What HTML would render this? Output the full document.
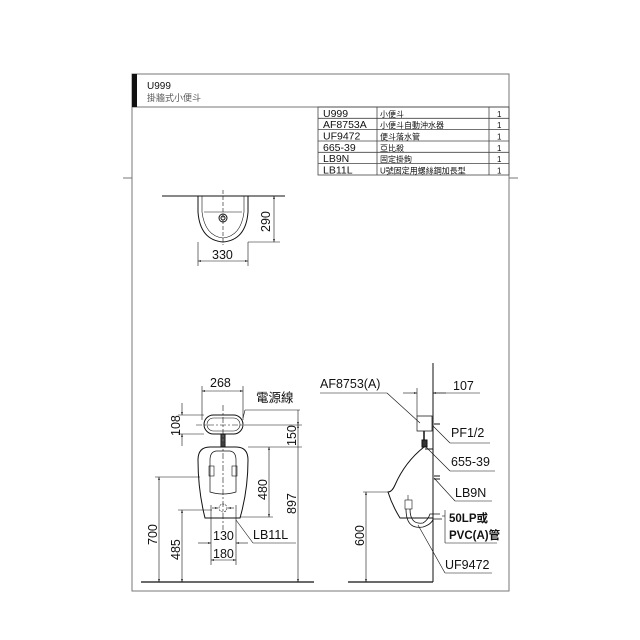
<!DOCTYPE html>
<html><head><meta charset="utf-8"><style>
html,body{margin:0;padding:0;background:#fff;}
svg{display:block;}
text{font-family:"Liberation Sans","Noto Sans CJK TC",sans-serif;fill:#111;}
.t{font-size:12.5px;}
.s{font-size:8px;fill:#555;}
</style></head><body>
<svg width="640" height="640" viewBox="0 0 640 640" xmlns="http://www.w3.org/2000/svg">
<defs>
<marker id="a" viewBox="0 0 10 10" refX="10" refY="5" markerWidth="5" markerHeight="5" orient="auto-start-reverse"><path d="M0,2 L10,5 L0,8 z" fill="#111"/></marker>
</defs>
<g fill="none" stroke="#777" stroke-width="1">
<rect x="132" y="74" width="377" height="517"/>
<line x1="132" y1="107" x2="509" y2="107"/>
<line x1="123" y1="178" x2="132" y2="178"/>
<line x1="509" y1="178" x2="518" y2="178"/>
</g>
<rect x="132" y="74" width="5" height="33" fill="#111"/>
<text x="147" y="89" style="font-size:10px" fill="#333">U999</text>
<text x="147" y="101" style="font-size:9px;fill:#555">掛牆式小便斗</text>
<g stroke="#444" stroke-width="0.8" fill="none">
<rect x="318" y="107" width="191" height="68"/>
<line x1="377" y1="107" x2="377" y2="175"/>
<line x1="489" y1="107" x2="489" y2="175"/>
<line x1="318" y1="118.3" x2="509" y2="118.3"/>
<line x1="318" y1="129.6" x2="509" y2="129.6"/>
<line x1="318" y1="141" x2="509" y2="141"/>
<line x1="318" y1="152.3" x2="509" y2="152.3"/>
<line x1="318" y1="163.6" x2="509" y2="163.6"/>
</g>
<g style="font-size:10.5px">
<text x="323" y="117">U999</text><text x="323" y="128">AF8753A</text><text x="323" y="139.5">UF9472</text>
<text x="323" y="151">665-39</text><text x="323" y="162">LB9N</text><text x="323" y="173.5">LB11L</text>
</g>
<g class="s">
<text x="380" y="117">小便斗</text><text x="380" y="128">小便斗自動沖水器</text><text x="380" y="139.5">便斗落水管</text>
<text x="380" y="151">亞比殺</text><text x="380" y="162">固定掛鉤</text><text x="380" y="173.5">U號固定用螺絲鋼加長型</text>
</g>
<g style="font-size:8px"><text x="497" y="117">1</text><text x="497" y="128">1</text><text x="497" y="139.5">1</text><text x="497" y="151">1</text><text x="497" y="162">1</text><text x="497" y="173.5">1</text></g>

<g fill="none" stroke="#111" stroke-width="1">
<line x1="162" y1="196" x2="285" y2="196"/>
<path d="M198,196 L198,212 Q200,240 223,242 Q246,240 248,212 L248,196"/>
<path d="M202,196 L202,212 Q205,236 223,238 Q241,236 244,212 L244,196" stroke-width="0.6"/>
<path d="M204,212 L242,212" stroke-width="0.6"/>
<circle cx="223" cy="218" r="4"/><circle cx="223" cy="218" r="2"/>
<line x1="223" y1="190" x2="223" y2="245" stroke-dasharray="4,2" stroke-width="0.6"/>
<g stroke-width="0.6">
<line x1="248" y1="242" x2="280" y2="242"/>
<line x1="274" y1="196" x2="274" y2="242" marker-start="url(#a)" marker-end="url(#a)"/>
<line x1="198" y1="242" x2="198" y2="266"/><line x1="248" y1="242" x2="248" y2="266"/>
<line x1="198" y1="261" x2="248" y2="261" marker-start="url(#a)" marker-end="url(#a)"/>
</g></g>
<text class="t" x="212" y="259">330</text>
<text class="t" transform="translate(270,232) rotate(-90)">290</text>

<g fill="none" stroke="#111" stroke-width="1">
<line x1="141" y1="582" x2="314" y2="582" stroke-width="1.2"/>
<rect x="204" y="415" width="39" height="19" rx="9.5"/>
<rect x="207" y="418" width="33" height="13" rx="6.5" stroke-width="0.6"/>
<rect x="221" y="434" width="4" height="13" fill="#555"/>
<path d="M205,518 Q198,490 198,460 Q198,447 210,447 L236,447 Q248,447 248,460 Q248,490 240,518 Z"/>
<path d="M210,492 L210,460 Q210,452 216,451 L230,451 Q236,452 236,460 L236,492 Q223,496 210,492 Z" stroke-width="0.7"/>
<rect x="209" y="466" width="5" height="10" stroke-width="0.6"/><rect x="232" y="466" width="5" height="10" stroke-width="0.6"/>
<circle cx="223" cy="508" r="4" stroke-width="0.6" stroke-dasharray="2,1"/>
<g stroke-width="0.6">
<line x1="223" y1="405" x2="223" y2="530" stroke-dasharray="6,2,2,2"/>
<line x1="196" y1="425" x2="250" y2="425" stroke-dasharray="6,2,2,2"/>
<line x1="202" y1="386" x2="202" y2="420"/><line x1="243" y1="386" x2="243" y2="420"/>
<line x1="202" y1="391" x2="243" y2="391" marker-start="url(#a)" marker-end="url(#a)"/>
<line x1="178" y1="415" x2="204" y2="415"/><line x1="178" y1="434" x2="204" y2="434"/>
<line x1="182" y1="403" x2="182" y2="415" marker-end="url(#a)"/><line x1="182" y1="446" x2="182" y2="434" marker-end="url(#a)"/>
<line x1="243" y1="418" x2="245" y2="410" /><line x1="245" y1="410" x2="300" y2="410"/>
<line x1="250" y1="425" x2="302" y2="425"/><line x1="248" y1="447" x2="302" y2="447"/>
<line x1="298" y1="410" x2="298" y2="425" marker-end="url(#a)"/>
<line x1="298" y1="425" x2="298" y2="582" marker-start="url(#a)" marker-end="url(#a)"/>
<line x1="269" y1="447" x2="269" y2="517" marker-start="url(#a)" marker-end="url(#a)"/>
<line x1="240" y1="517" x2="273" y2="517"/>
<line x1="155" y1="477" x2="200" y2="477"/>
<line x1="159" y1="477" x2="159" y2="582" marker-start="url(#a)" marker-end="url(#a)"/>
<line x1="178" y1="510" x2="212" y2="510"/>
<line x1="182" y1="510" x2="182" y2="582" marker-start="url(#a)" marker-end="url(#a)"/>
<line x1="211" y1="505" x2="211" y2="565"/><line x1="236" y1="505" x2="236" y2="565"/>
<line x1="198" y1="543" x2="211" y2="543" marker-end="url(#a)"/><line x1="248" y1="543" x2="236" y2="543" marker-end="url(#a)"/>
<line x1="211" y1="560" x2="236" y2="560" marker-start="url(#a)" marker-end="url(#a)"/>
<line x1="212" y1="508" x2="218" y2="508" marker-end="url(#a)"/><line x1="234" y1="508" x2="228" y2="508" marker-end="url(#a)"/>
<line x1="236" y1="520" x2="253" y2="543"/><line x1="253" y1="543" x2="296" y2="543"/>
</g></g>
<text class="t" x="210" y="387">268</text>
<text class="t" x="256" y="402">電源線</text>
<text class="t" x="213" y="540">130</text>
<text class="t" x="213" y="558">180</text>
<text class="t" x="253" y="539">LB11L</text>
<text class="t" transform="translate(180,436) rotate(-90)">108</text>
<text class="t" transform="translate(296,446) rotate(-90)">150</text>
<text class="t" transform="translate(296,514) rotate(-90)">897</text>
<text class="t" transform="translate(267,500) rotate(-90)">480</text>
<text class="t" transform="translate(157,545) rotate(-90)">700</text>
<text class="t" transform="translate(180,560) rotate(-90)">485</text>

<g fill="none" stroke="#111" stroke-width="1">
<line x1="433" y1="363" x2="433" y2="582"/>
<line x1="348" y1="582" x2="433" y2="582" stroke-width="1.2"/>
<path d="M417,416 L432,416 L432,431 L417,431 Z" stroke-width="0.7"/>
<rect x="422" y="440" width="5" height="7" fill="#333"/>
<line x1="424" y1="431" x2="424" y2="440" stroke-width="1.5"/>
<path d="M424,447 Q405,462 395,485 Q392,492 388,492 Q392,505 400,518 L433,518"/>
<path d="M425,449 L433,449"/>
<rect x="405" y="500" width="7" height="9" stroke-width="0.6"/>
<path d="M408,495 L408,500" stroke-width="0.6"/>
<path d="M410,509 Q410,525 423,523 Q428,520 430,514 L440,514" stroke-width="0.8"/>
<path d="M406,509 Q406,530 423,527 Q432,524 433,519 L442,519" stroke-width="0.8"/>
<line x1="434" y1="476" x2="440" y2="476"/><line x1="434" y1="479" x2="440" y2="479"/>
<line x1="434" y1="424" x2="440" y2="424"/>
<g stroke-width="0.6">
<line x1="417" y1="388" x2="417" y2="416"/>
<line x1="403" y1="393" x2="417" y2="393" marker-end="url(#a)"/><line x1="446" y1="393" x2="433" y2="393" marker-end="url(#a)"/>
<line x1="433" y1="393" x2="480" y2="393"/>
<line x1="320" y1="393" x2="387" y2="393"/><line x1="387" y1="393" x2="420" y2="423"/>
<line x1="433" y1="426" x2="450" y2="443"/><line x1="450" y1="443" x2="490" y2="443"/>
<line x1="425" y1="446" x2="450" y2="471"/><line x1="450" y1="471" x2="495" y2="471"/>
<line x1="434" y1="478" x2="455" y2="501"/><line x1="455" y1="501" x2="492" y2="501"/>
<line x1="442" y1="516" x2="445" y2="516"/><line x1="445" y1="510" x2="445" y2="543"/><line x1="445" y1="543" x2="497" y2="543"/>
<line x1="418" y1="525" x2="445" y2="573"/><line x1="445" y1="573" x2="492" y2="573"/>
<line x1="363" y1="492" x2="388" y2="492"/>
<line x1="366" y1="492" x2="366" y2="582" marker-start="url(#a)" marker-end="url(#a)"/>
</g></g>
<text class="t" x="320" y="388">AF8753(A)</text>
<text class="t" x="453" y="390">107</text>
<text class="t" x="451" y="437">PF1/2</text>
<text class="t" x="451" y="466">655-39</text>
<text class="t" x="455" y="497">LB9N</text>
<text x="449" y="522" style="font-size:11.5px;font-weight:bold">50LP或</text>
<text x="449" y="539" style="font-size:11.5px;font-weight:bold">PVC(A)管</text>
<text class="t" x="445" y="569">UF9472</text>
<text class="t" transform="translate(364,546) rotate(-90)">600</text>
</svg>
</body></html>
